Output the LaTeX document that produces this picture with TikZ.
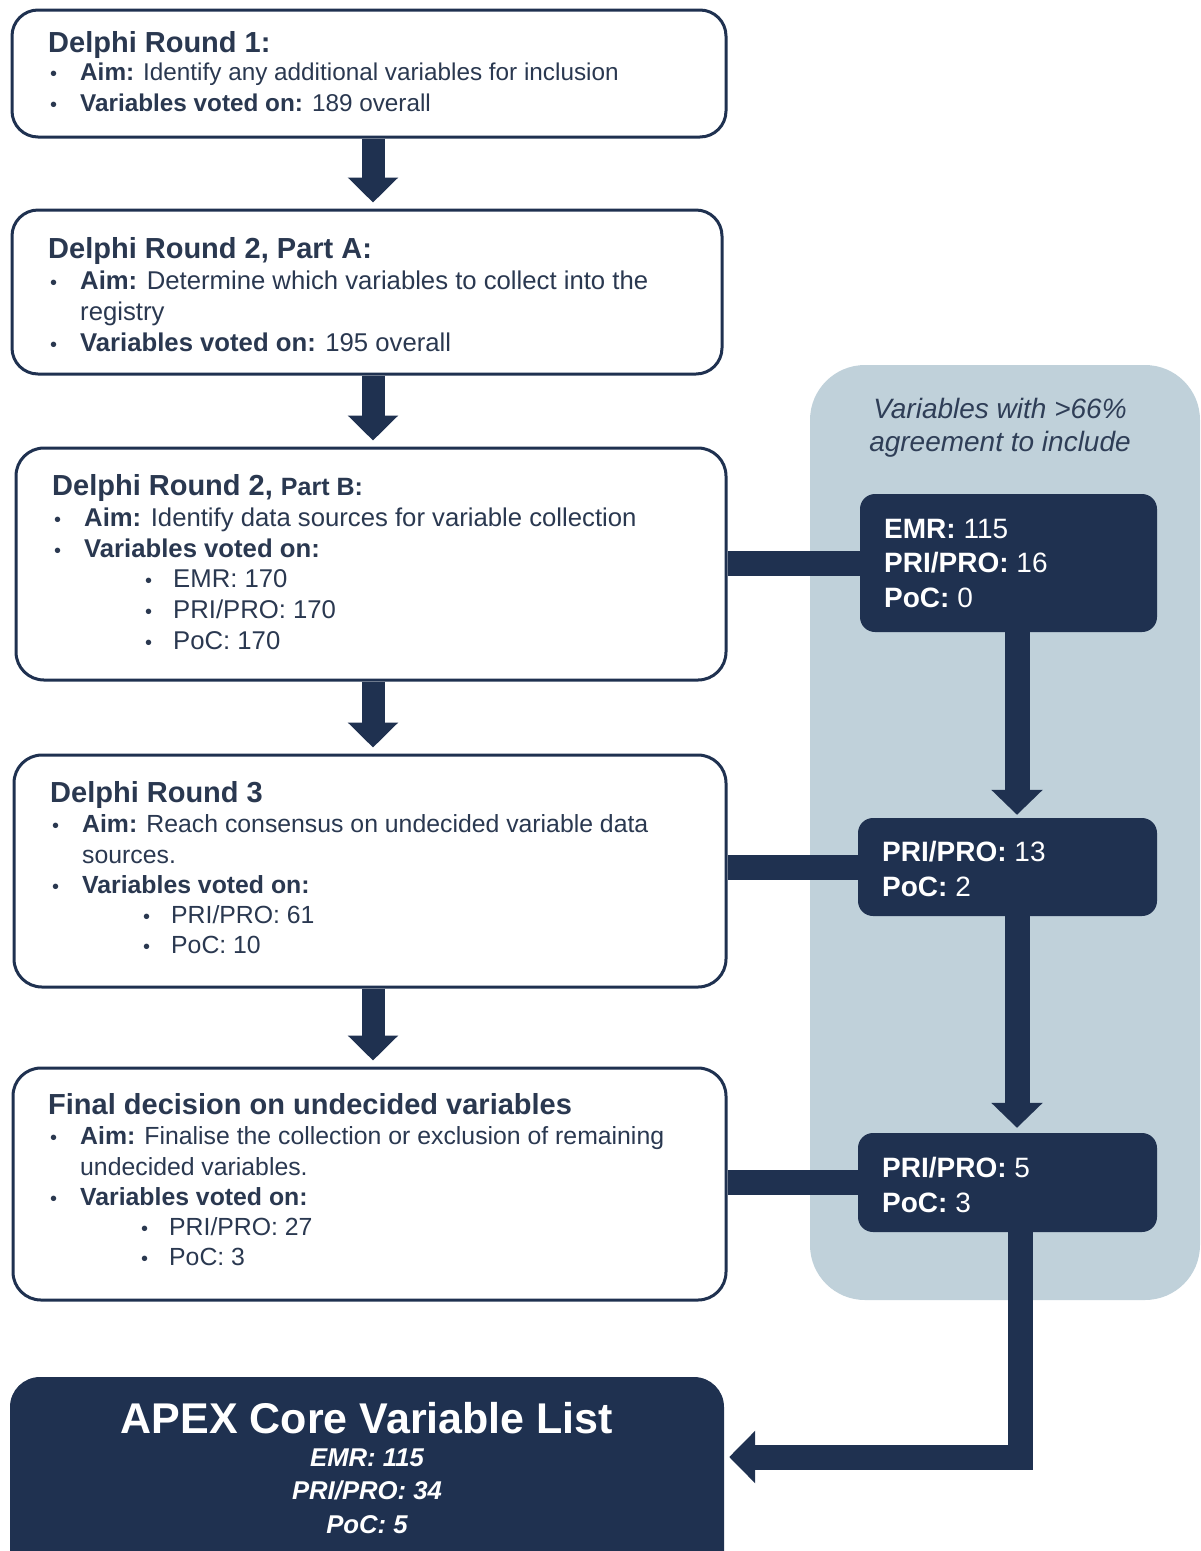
\documentclass[tikz,border=0pt]{standalone}
\usepackage{fontspec}
\setmainfont{Liberation Sans}
\usetikzlibrary{arrows.meta}
\definecolor{navy}{HTML}{1F3150}
\definecolor{panelc}{HTML}{C0D1DA}
\definecolor{txtc}{HTML}{2A3850}
\definecolor{ptxt}{HTML}{2F3E57}
\newcommand\hd[1]{{\bfseries\fontsize{29}{31}\selectfont #1}}
\newcommand\bdot{{\fontsize{20}{20}\selectfont •}}
\newcommand\bitem[1]{\makebox[32pt][l]{\hspace{2pt}\bdot}#1}
\newcommand\sitem[1]{\hspace*{93pt}\makebox[28pt][l]{\bdot}#1}
\newcommand\cont[1]{\hspace*{32pt}#1}
\begin{document}
\begin{tikzpicture}[x=1pt,y=-1pt,
  wbox/.style={draw=navy, line width=3pt, fill=white, rounded corners=26pt, inner sep=0pt},
  dbox/.style={fill=navy, rounded corners=15pt, inner sep=0pt},
  txt/.style={anchor=north west, inner sep=0pt, align=left, text=txtc, font=\fontsize{25.7}{31}\selectfont},
  wtxt/.style={anchor=north west, inner sep=0pt, align=left, text=white, font=\fontsize{28}{34.5}\selectfont},
  downarr/.style={navy, line width=23pt, -{Triangle[length=25pt,width=49pt]}, shorten >=6pt},
  bar/.style={navy, line width=25pt}
]
\useasboundingbox (0,0) rectangle (1201,1551);
\clip (0,0) rectangle (1201,1551);

% right panel
\node[fill=panelc, rounded corners=55pt, minimum width=390pt, minimum height=935pt, inner sep=0pt] (panel) at (1005,832.5) {};
\node[anchor=north, inner sep=0pt, align=center, text=ptxt, font=\itshape\fontsize{28}{33.5}\selectfont] (tp) at (1000,398) {Variables with >66\%\\agreement to include};

% white boxes
\node[wbox, minimum width=714pt, minimum height=127pt] (b1) at (369,73.5) {};
\node[wbox, minimum width=710pt, minimum height=164pt] (b2) at (367,292) {};
\node[wbox, minimum width=710pt, minimum height=232pt, rounded corners=28pt] (b3) at (371,564) {};
\node[wbox, minimum width=712pt, minimum height=232pt, rounded corners=28pt] (b4) at (370,871) {};
\node[wbox, minimum width=713pt, minimum height=232pt, rounded corners=28pt] (b5) at (369.5,1184) {};

% final box
\node[fill=navy, rounded corners=30pt, minimum width=714pt, minimum height=223pt, inner sep=0pt] (fin) at (367,1488.5) {};

% dark boxes
\node[dbox, minimum width=297pt, minimum height=138pt] (dA) at (1008.5,563) {};
\node[dbox, minimum width=299pt, minimum height=98pt] (dB) at (1007.5,867) {};
\node[dbox, minimum width=299pt, minimum height=99pt] (dC) at (1007.5,1182.5) {};

% texts
\node[txt, font=\fontsize{24.3}{31}\selectfont] (t1) at (48,31.5) {\hd{Delphi Round 1:}\\[-3pt]
\bitem{\textbf{Aim:} Identify any additional variables for inclusion}\\
\bitem{\textbf{Variables voted on:} 189 overall}};

\node[txt] (t2) at (48,237.5) {\hd{Delphi Round 2, Part A:}\\
\bitem{\textbf{Aim:} Determine which variables to collect into the}\\
\cont{registry}\\
\bitem{\textbf{Variables voted on:} 195 overall}};

\node[txt] (t3) at (52,474.5) {\hd{Delphi Round 2, {\fontsize{25}{31}\selectfont Part B:}}\\
\bitem{\textbf{Aim:} Identify data sources for variable collection}\\
\bitem{\textbf{Variables voted on:}}\\[-1pt]
\sitem{EMR: 170}\\
\sitem{PRI/PRO: 170}\\
\sitem{PoC: 170}};

\node[txt, font=\fontsize{24.8}{30.2}\selectfont] (t4) at (50,781.5) {\hd{Delphi Round 3}\\
\bitem{\textbf{Aim:} Reach consensus on undecided variable data}\\
\cont{sources.}\\
\bitem{\textbf{Variables voted on:}}\\
\sitem{PRI/PRO: 61}\\
\sitem{PoC: 10}};

\node[txt, font=\fontsize{24.8}{30.2}\selectfont] (t5) at (48,1093.5) {\hd{Final decision on undecided variables}\\
\bitem{\textbf{Aim:} Finalise the collection or exclusion of remaining}\\
\cont{undecided variables.}\\
\bitem{\textbf{Variables voted on:}}\\
\sitem{PRI/PRO: 27}\\
\sitem{PoC: 3}};

\node[wtxt] (ta) at (884,519) {\textbf{EMR:} 115\\\textbf{PRI/PRO:} 16\\\textbf{PoC:} 0};
\node[wtxt] (tb) at (882,841) {\textbf{PRI/PRO:} 13\\\textbf{PoC:} 2};
\node[wtxt] (tc) at (882,1157) {\textbf{PRI/PRO:} 5\\\textbf{PoC:} 3};

\node[anchor=north, inner sep=0pt, align=center, text=white, font=\bfseries\itshape\fontsize{25.7}{33.5}\selectfont] (tf) at (367,1402.6)
{{\upshape\fontsize{43}{45}\selectfont APEX Core Variable List}\\[-1pt]
EMR: 115\\PRI/PRO: 34\\PoC: 5};

% connectors
\coordinate (ax) at (373,0);
\coordinate (ax2) at (1017,0);
\coordinate (cj) at (1020,1457);
\draw[downarr] (b1.south -| ax) -- (b2.north -| ax);
\draw[downarr] (b2.south -| ax) -- (b3.north -| ax);
\draw[downarr] (b3.south -| ax) -- (b4.north -| ax);
\draw[downarr] (b4.south -| ax) -- (b5.north -| ax);

\draw[bar] (dA.west -| b3.east) -- (dA.west);
\draw[bar] (dB.west -| b4.east) -- (dB.west);
\draw[bar] (dC.west -| b5.east) -- (dC.west);

\draw[downarr, line width=25pt, -{Triangle[length=25pt,width=50pt]}, shorten >=3pt] (dA.south -| ax2) -- (dB.north -| ax2);
\draw[downarr, line width=25pt, -{Triangle[length=25pt,width=50pt]}, shorten >=5pt] (dB.south -| ax2) -- (dC.north -| ax2);
\draw[navy, line width=25pt, line join=miter, -{Triangle[length=26pt,width=51pt]}, shorten >=5pt] (dC.south -| cj) -- (cj) -- (cj -| fin.east);
\end{tikzpicture}
\end{document}
